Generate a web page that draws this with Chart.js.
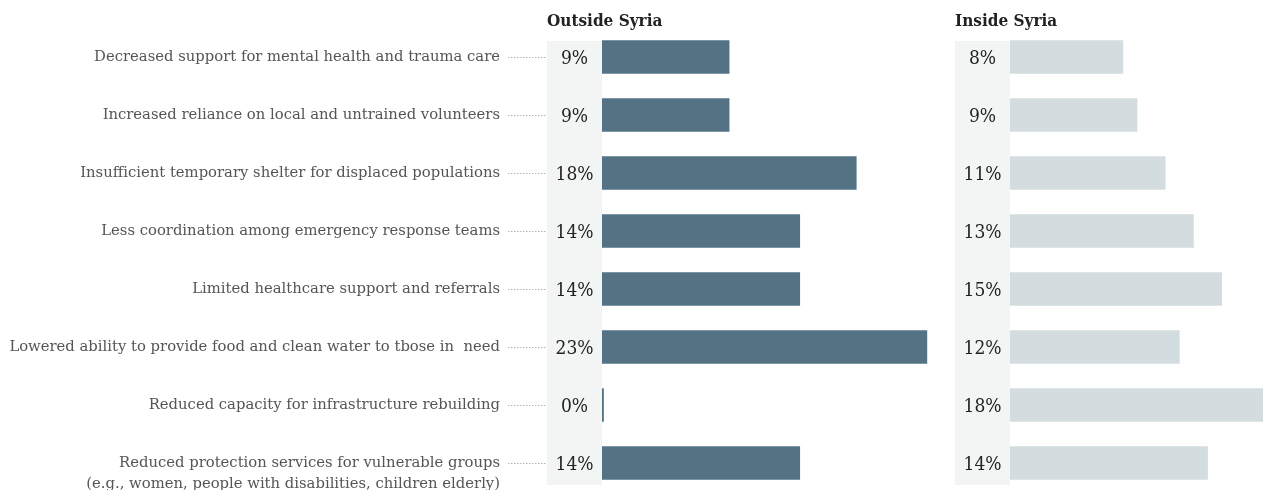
<!DOCTYPE html>
<html>
<head>
<meta charset="utf-8">
<script src="https://cdn.jsdelivr.net/npm/chart.js@4.4.0/dist/chart.umd.min.js"></script>
<style>
  html, body { margin: 0; padding: 0; background: #fff; overflow: hidden; }
  #wrap { position: relative; width: 1263px; height: 490px; overflow: hidden; }
  #wrap canvas { position: absolute; top: 0; }
  #outside { left: 0; }
  #inside { left: 944px; }
</style>
</head>
<body>
<div id="wrap">
  <canvas id="outside" width="950" height="500"></canvas>
  <canvas id="inside" width="330" height="500"></canvas>
</div>
<script>
// Categories and shares (%) for each side
const categories = [
    'Decreased support for mental health and trauma care',
    'Increased reliance on local and untrained volunteers',
    'Insufficient temporary shelter for displaced populations',
    'Less coordination among emergency response teams',
    'Limited healthcare support and referrals',
    'Lowered ability to provide food and clean water to tbose in  need',
    'Reduced capacity for infrastructure rebuilding',
    ['Reduced protection services for vulnerable groups', '(e.g., women, people with disabilities, children elderly)']
];
const outsideValues = [9, 9, 18, 14, 14, 23, 0, 14];
const insideValues = [8, 9, 11, 13, 15, 12, 18, 14];
const panelTitles = ['Outside Syria', 'Inside Syria'];

const LABEL_FONT = '14.8px "DejaVu Serif", serif';
const VALUE_FONT = '19px "DejaVu Serif Condensed", "DejaVu Serif", serif';
const TITLE_FONT = 'bold 17px "DejaVu Serif Condensed", "DejaVu Serif", serif';

// Grey strip behind the value labels, value labels, title and (optionally) category labels
function panelPlugin(title, stripLeft, withLabels) {
    return {
        id: 'panel',
        beforeDatasetsDraw(chart) {
            const ctx = chart.ctx;
            const left = chart.chartArea.left;
            ctx.save();
            ctx.fillStyle = '#f3f5f5';
            ctx.fillRect(stripLeft, 41, left - stripLeft, 444);
            ctx.restore();
        },
        afterDatasetsDraw(chart) {
            const ctx = chart.ctx;
            const y = chart.scales.y;
            const data = chart.data.datasets[0].data;
            const left = chart.chartArea.left;
            const cx = (stripLeft + left) / 2;
            ctx.save();
            ctx.textBaseline = 'middle';

            ctx.font = TITLE_FONT;
            ctx.fillStyle = '#222';
            ctx.textAlign = 'left';
            ctx.fillText(title, stripLeft, 22);

            ctx.font = VALUE_FONT;
            ctx.textAlign = 'center';
            data.forEach((v, i) => {
                ctx.fillText(v + '%', cx, y.getPixelForValue(i) + 2);
            });

            if (withLabels) {
                ctx.font = LABEL_FONT;
                ctx.fillStyle = '#555';
                ctx.textAlign = 'right';
                chart.data.labels.forEach((lab, i) => {
                    const py = y.getPixelForValue(i);
                    const lines = Array.isArray(lab) ? lab : [lab];
                    lines.forEach((t, k) => ctx.fillText(t, 500, py + k * 21));
                    // dotted leader line
                    ctx.strokeStyle = '#b5b5b5';
                    ctx.lineWidth = 1;
                    ctx.setLineDash([1.5, 1.5]);
                    ctx.beginPath();
                    ctx.moveTo(508, Math.round(py) + 0.5);
                    ctx.lineTo(stripLeft, Math.round(py) + 0.5);
                    ctx.stroke();
                });
            }
            ctx.restore();
        }
    };
}

function makeChart(id, values, color, max, padding, title, stripLeft, withLabels) {
    return new Chart(document.getElementById(id), {
        type: 'bar',
        data: {
            labels: categories,
            datasets: [{
                data: values,
                backgroundColor: color,
                barThickness: 33,
                minBarLength: 1.5
            }]
        },
        options: {
            indexAxis: 'y',
            responsive: false,
            animation: false,
            layout: { padding: padding },
            plugins: { legend: { display: false }, tooltip: { enabled: false } },
            scales: {
                x: { display: false, min: 0, max: max },
                y: { display: false }
            }
        },
        plugins: [panelPlugin(title, stripLeft, withLabels)]
    });
}

makeChart('outside', outsideValues, '#537284', 24,
    { left: 602, right: 9, top: 28, bottom: 8 }, panelTitles[0], 547, true);
makeChart('inside', insideValues, '#d3dcde', 18,
    { left: 66, right: 10, top: 28, bottom: 8 }, panelTitles[1], 11, false);
</script>
</body>
</html>
